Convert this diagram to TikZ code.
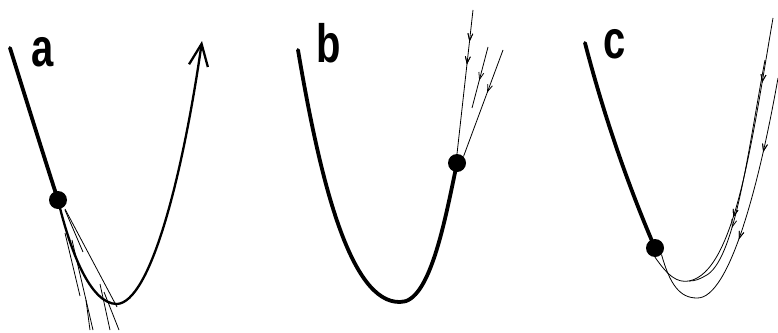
\documentclass[tikz,border=0pt]{standalone}
\usepackage{fontspec}
\newfontfamily\lblfont{Liberation Sans}
\usetikzlibrary{arrows.meta,decorations.markings}
\begin{document}
\begin{tikzpicture}[x=1pt,y=-1pt,
  thickline/.style={line width=3.8pt,line cap=round},
  midline/.style={line width=2.3pt,line cap=round},
  thinline/.style={line width=0.8pt},
  ball/.style={circle,fill=black,inner sep=0pt,minimum size=18pt},
  lbl/.style={inner sep=0pt,anchor=base,font=\lblfont\bfseries\fontsize{54}{54}\selectfont},
  barbs/.style={thinline,postaction={decorate},decoration={markings,
     mark=at position #1 with {\arrow{Straight Barb[length=7pt,width=5pt,line width=0.8pt]}}}},
]
\useasboundingbox (0,0) rectangle (778,332);

% ---------- panel a ----------
\coordinate (a0) at (10,48);
\coordinate (av) at (117,304);
\coordinate (at) at (202,41);
\node[ball] (ab) at (58,200) {};
\draw[thickline] (a0) .. controls (30,112) and (45,160) .. (ab.center);
\draw[midline,-{Straight Barb[length=22pt,width=19pt,line width=2.3pt]}]
  (ab.center) .. controls (70,250) and (90,304) .. (av)
  .. controls (150,302) and (182,180) .. (at);
\node[lbl] (la) at (43,66.5) {\scalebox{0.74}[1]{a}};
% thin fan lines from the ball
\coordinate (f1a) at (65,209); \coordinate (f1b) at (117,307);
\coordinate (f2a) at (65,210); \coordinate (f2b) at (83,252);
\coordinate (f3a) at (65,233); \coordinate (f3b) at (80,296);
\coordinate (f4a) at (72,240); \coordinate (f4b) at (93,330);
\coordinate (f5a) at (86,300); \coordinate (f5b) at (90,330);
\coordinate (f6a) at (100,284); \coordinate (f6b) at (110,330);
\coordinate (f7a) at (104,292); \coordinate (f7b) at (119,330);
\foreach \i in {1,...,7} {\draw[thinline] (f\i a) -- (f\i b);}

% ---------- panel b ----------
\coordinate (b0) at (298,50);
\coordinate (bv) at (400,302);
\node[ball] (bb) at (457,163) {};
\draw[thickline] (b0) .. controls (320,180) and (350,303) .. (bv)
  .. controls (430,303) and (445,220) .. (bb.center);
\node[lbl] (lb) at (328.5,62.5) {\scalebox{0.74}[1]{b}};
\coordinate (g1) at (473,10);
\coordinate (g2) at (503,50);
\coordinate (g3a) at (488,47); \coordinate (g3b) at (472,108);
\draw[barbs=0.22,postaction={decorate},decoration={markings,
   mark=at position 0.38 with {\arrow{Straight Barb[length=7pt,width=5pt,line width=0.8pt]}}}]
  (g1) -- (bb.north);
\draw[barbs=0.4] (g2) -- (bb.north east);
\draw[barbs=0.55] (g3a) -- (g3b);

% ---------- panel c ----------
\coordinate (c0) at (585,43);
\node[ball] (cb) at (655,248) {};
\draw[thickline] (c0) .. controls (605,120) and (630,190) .. (cb.center);
\node[lbl] (lc) at (615,58.5) {\scalebox{0.74}[1]{c}};
\coordinate (h1) at (773,18);
\coordinate (h1v) at (689,281);
\coordinate (h2) at (778,78);
\coordinate (h2v) at (697,298);
\coordinate (h3) at (765,60);
\coordinate (h3v) at (705,276);
\draw[barbs=0.2,postaction={decorate},decoration={markings,
   mark=at position 0.62 with {\arrow{Straight Barb[length=7pt,width=5pt,line width=0.8pt]}}}]
  (h1) .. controls (752,140) and (735,272) .. (h1v)
  .. controls (677,283) and (668,276) .. (cb.south);
\draw[barbs=0.25,postaction={decorate},decoration={markings,
   mark=at position 0.55 with {\arrow{Straight Barb[length=7pt,width=5pt,line width=0.8pt]}}}]
  (h2) .. controls (760,180) and (730,299) .. (h2v)
  .. controls (680,298) and (670,285) .. (cb.south east);
\draw[barbs=0.7] (h3) .. controls (748,150) and (735,262) .. (h3v)
  .. controls (700,279) and (695,281) .. (h1v);
\end{tikzpicture}
\end{document}
